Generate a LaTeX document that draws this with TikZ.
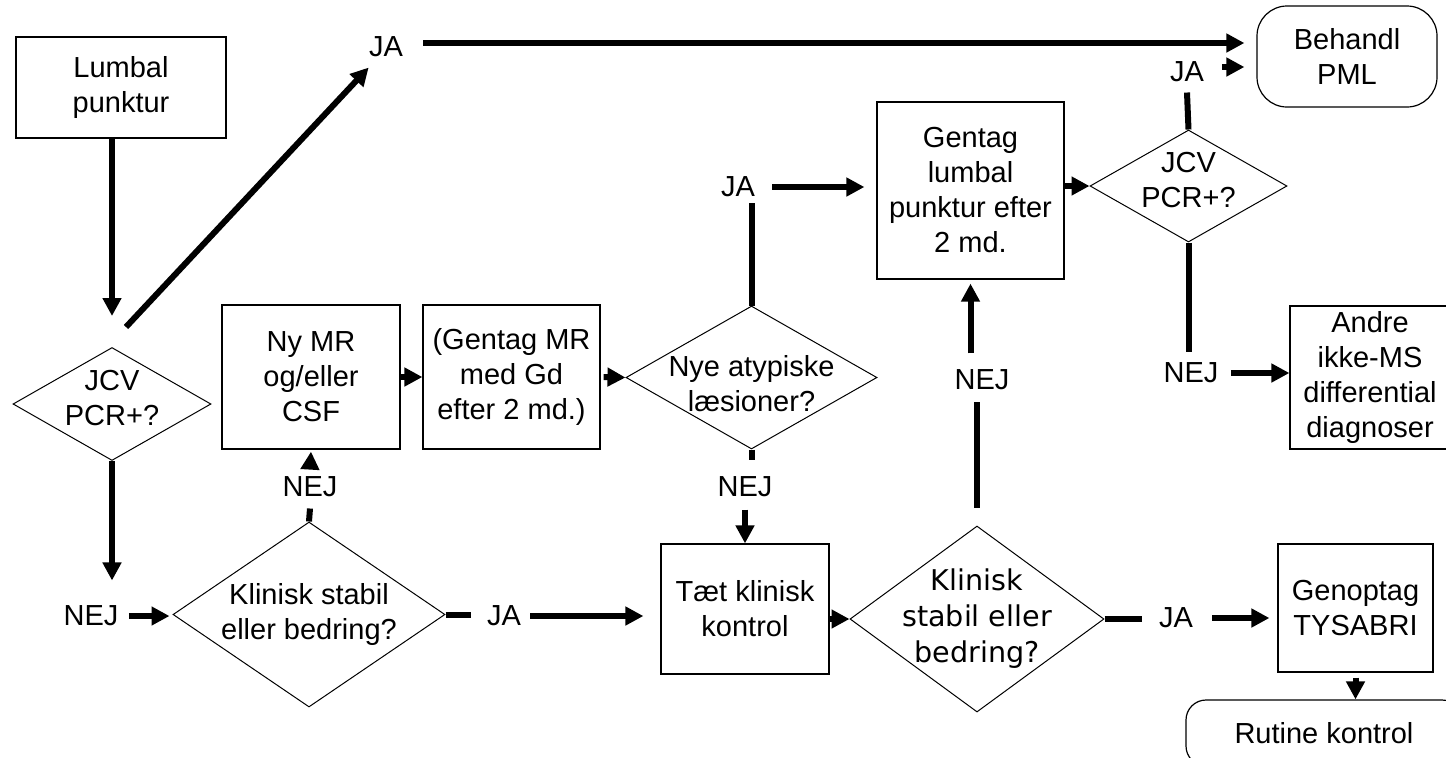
\documentclass[tikz,border=0pt]{standalone}
\usepackage{fontspec}
\setmainfont{Liberation Sans}
\newfontfamily\widefont{DejaVu Sans}
\usetikzlibrary{arrows.meta,shapes.geometric,calc}

\begin{document}
\begin{tikzpicture}[x=0.5pt, y=-0.5pt, font=\fontsize{14.5}{17.5}\selectfont,
  dims/.style 2 args={minimum width=#1, minimum height=#2},
  box/.style={draw, line width=.6pt, align=center, inner sep=0pt},
  term/.style={box, rounded corners=#1}, term/.default=15pt,
  dec/.style={diamond, draw, line width=.5pt, inner sep=0pt},
  dtext/.style={align=center, inner sep=0pt},
  lbl/.style={inner sep=0pt},
  arr/.style={->, line width=3pt}, ln/.style={line width=3pt},
  >={Triangle[length=9pt, width=9pt]}]
\useasboundingbox (0,0) rectangle (1446,757);
\node[box, dims={105pt}{50.5pt}] (lp) at (121,87.5) {Lumbal\\punktur};
\node[dec, dims={99pt}{56.5pt}, label={[dtext,yshift=3pt]center:JCV\\PCR+?}] (jcv1) at (112,404) {};
\node[box, dims={89pt}{72pt}] (nymr) at (311,377) {Ny MR\\og/eller\\CSF};
\node[box, dims={88.5pt}{72pt}] (gmr) at (511.5,377) {(Gentag MR\\med Gd\\efter 2 md.)};
\node[dec, dims={125.5pt}{71.5pt}, label={[dtext,yshift=-3pt]center:Nye atypiske\\læsioner?}] (nye) at (751.5,377.5) {};
\node[box, dims={93.5pt}{88.5pt}] (glp) at (970.5,190.5) {Gentag\\lumbal\\punktur efter\\2 md.};
\node[dec, dims={98.5pt}{56pt}, label={[dtext,yshift=3pt]center:JCV\\PCR+?}] (jcv2) at (1188.5,186) {};
\node[term, dims={90pt}{50.5pt}] (pml) at (1347,56.5) {Behandl\\PML};
\node[box, dims={80pt}{71.5pt}] (andre) at (1370,377.5) {Andre\\ikke-MS\\differential\\diagnoser};
\node[dec, dims={136pt}{92.5pt}, label={[dtext]center:Klinisk stabil\\eller bedring?}] (kl1) at (309,614.5) {};
\node[box, dims={84pt}{65pt}] (taet) at (745,609) {Tæt klinisk\\kontrol};
\node[dec, dims={127pt}{93pt}, label={[dtext,font=\widefont\fontsize{14.3}{18}\selectfont]center:Klinisk\\stabil eller\\bedring?}] (kl2) at (977,619) {};
\node[box, dims={77.5pt}{64pt}] (genop) at (1355.5,608) {Genoptag\\TYSABRI};
\node[term=10pt, dims={138pt}{33pt}] (rut) at (1324,733) {Rutine kontrol};

\node[lbl] (jaTop) at (386,47) {JA};
\node[lbl] (jaPML) at (1187,72) {JA};
\node[lbl] (jaNye) at (738,187) {JA};
\node[lbl] (nejMid) at (982,380) {NEJ};
\node[lbl] (nejAndre) at (1191,373) {NEJ};
\node[lbl] (nejL) at (91,616) {NEJ};
\node[lbl] (nejMR) at (310,487) {NEJ};
\node[lbl] (nejNye) at (745,487) {NEJ};
\node[lbl] (ja1) at (504,616) {JA};
\node[lbl] (ja2) at (1176,618) {JA};

\draw[arr] (lp.south -| jcv1.north) -- ([yshift=15.5pt]jcv1.north);
\draw[arr] ([shift={(7pt,10pt)}]jcv1.north) -- ([yshift=-5pt]jaTop.south west);
\draw[arr] ([shift={(10pt,2pt)}]jaTop.east) -- ($(jaTop.east -| pml.west)+(-6pt,2pt)$);
\draw[arr] ([shift={(9pt,2.5pt)}]jaPML.east) -- ($(jaPML.east -| pml.west)+(-6pt,2.5pt)$);
\draw[ln] (jcv2.north) -- ([yshift=-5pt]jaPML.south);
\draw[ln] (jcv2.south) -- ($(jcv2.south |- nejAndre.north)+(0,5pt)$);
\draw[arr] ([xshift=6pt]nejAndre.east) -- (nejAndre.east -| andre.west);
\draw[arr] (jcv1.south) -- ($(jcv1.south |- nejL.north)+(0,12.5pt)$);
\draw[arr] ([xshift=5pt]nejL.east) -- ($(nejL.east -| kl1.west)+(-1.5pt,0)$);
\draw[ln] (kl1.north) -- ([yshift=-5.5pt]nejMR.south);
\draw[arr] ([yshift=4pt]nejMR.north) -- ([yshift=-1pt]nymr.south);
\draw[arr] (nymr.east) -- (gmr.west);
\draw[arr] ([xshift=1.5pt]gmr.east) -- (nye.west);
\draw[ln] (nye.north) -- ($(nye.north |- jaNye.south)+(0,-2.5pt)$);
\draw[arr] ([xshift=8.5pt]jaNye.east) -- ($(jaNye.east -| glp.west)+(-6pt,0)$);
\draw[ln] (nye.south) -- ($(nye.south |- nejNye.north)+(0,8pt)$);
\draw[arr] ([yshift=-6pt]nejNye.south) -- (taet.north);
\draw[ln] (kl1.east) -- ($(kl1.east -| ja1.west)+(-8pt,0)$);
\draw[arr] ([xshift=4.5pt]ja1.east) -- ($(ja1.east -| taet.west)+(-8.5pt,0)$);
\draw[arr] (taet.east |- kl2.west) -- (kl2.west);
\draw[ln] ([yshift=9pt]kl2.north) -- ($(kl2.north |- nejMid.south)+(0,-5.5pt)$);
\draw[arr] ($(nejMid.north -| glp.south)+(0,8pt)$) -- ([yshift=-2pt]glp.south);
\draw[arr] (glp.east |- jcv2.west) -- (jcv2.west);
\draw[ln] (kl2.east) -- ($(kl2.east -| ja2.west)+(-8.5pt,0)$);
\draw[arr] ([xshift=9.5pt]ja2.east) -- ($(ja2.east -| genop.west)+(-4pt,0)$);
\draw[arr] ([yshift=-2.5pt]genop.south) -- (genop.south |- rut.north);
\end{tikzpicture}
\end{document}
